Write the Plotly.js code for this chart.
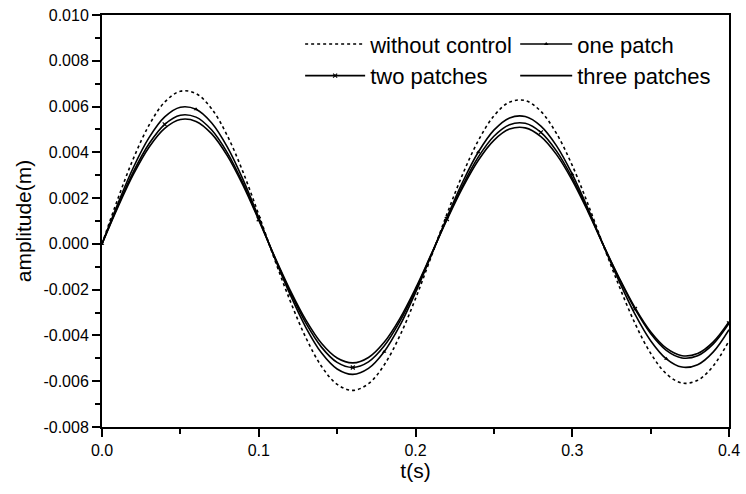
<!DOCTYPE html>
<html>
<head>
<meta charset="utf-8">
<script src="https://cdn.plot.ly/plotly-3.0.1.min.js"></script>
<style>html,body{margin:0;padding:0;background:#fff;}</style>
</head>
<body>
<div id="chart" style="width:746px;height:494px;"></div>
<script>
var t = [0.00,0.01,0.02,0.03,0.04,0.05,0.06,0.07,0.08,0.09,0.10,0.11,0.12,0.13,0.14,0.15,0.16,0.17,0.18,0.19,0.20,
         0.21,0.22,0.23,0.24,0.25,0.26,0.27,0.28,0.29,0.30,0.31,0.32,0.33,0.34,0.35,0.36,0.37,0.38,0.39,0.40];

var withoutControl = [0,0.001948,0.003727,0.005185,0.006195,0.006669,0.006567,0.005899,0.004720,0.003134,0.001277,
  -0.000660,-0.002482,-0.004090,-0.005345,-0.006137,-0.006400,-0.006109,-0.005292,-0.004015,-0.002394,
  -0.000566,0.001292,0.003028,0.004503,0.005590,0.006194,0.006262,0.005789,0.004816,0.003428,
  0.001743,-0.000093,-0.001860,-0.003468,-0.004778,-0.005674,-0.006080,-0.005961,-0.005328,-0.004233];

var onePatch = [0,0.001744,0.003338,0.004643,0.005548,0.005972,0.005881,0.005282,0.004227,0.002807,0.001144,
  -0.000588,-0.002210,-0.003643,-0.004760,-0.005466,-0.005700,-0.005441,-0.004713,-0.003576,-0.002132,
  -0.000504,0.001148,0.002692,0.004002,0.004969,0.005505,0.005566,0.005146,0.004281,0.003047,
  0.001549,-0.000083,-0.001646,-0.003070,-0.004230,-0.005023,-0.005382,-0.005277,-0.004716,-0.003747];

var twoPatches = [0,0.001642,0.003143,0.004373,0.005224,0.005624,0.005538,0.004974,0.003980,0.002643,0.001077,
  -0.000557,-0.002094,-0.003451,-0.004510,-0.005178,-0.005400,-0.005155,-0.004465,-0.003388,-0.002020,
  -0.000477,0.001087,0.002548,0.003788,0.004703,0.005210,0.005268,0.004870,0.004052,0.002884,
  0.001466,-0.000078,-0.001525,-0.002843,-0.003917,-0.004651,-0.004984,-0.004886,-0.004367,-0.003470];

var threePatches = [0,0.001587,0.003037,0.004225,0.005048,0.005435,0.005352,0.004807,0.003847,0.002554,0.001041,
  -0.000536,-0.002017,-0.003323,-0.004343,-0.004986,-0.005200,-0.004964,-0.004299,-0.003262,-0.001945,
  -0.000460,0.001046,0.002452,0.003645,0.004525,0.005014,0.005069,0.004686,0.003899,0.002775,
  0.001411,-0.000075,-0.001494,-0.002786,-0.003838,-0.004557,-0.004884,-0.004788,-0.004280,-0.003400];

var names = ['without control','one patch','two patches','three patches'];

var xTickVals = [0, 0.1, 0.2, 0.3, 0.4];
var xTickText = ['0.0', '0.1', '0.2', '0.3', '0.4'];
var yTickVals = [0.010, 0.008, 0.006, 0.004, 0.002, 0, -0.002, -0.004, -0.006, -0.008];
var yTickText = ['0.010', '0.008', '0.006', '0.004', '0.002', '0.000', '-0.002', '-0.004', '-0.006', '-0.008'];

var traces = [
  {x:t, y:withoutControl, name:names[0], legend:'legend', mode:'lines',
   line:{color:'#000', width:1.6, dash:'dot', shape:'spline'}},
  {x:t, y:onePatch, name:names[1], legend:'legend2', mode:'lines+markers',
   line:{color:'#000', width:1.6, shape:'spline'},
   marker:{symbol:'triangle-up', size:4, color:'#000', maxdisplayed:8}},
  {x:t, y:twoPatches, name:names[2], legend:'legend', mode:'lines+markers',
   line:{color:'#000', width:1.6, shape:'spline'},
   marker:{symbol:'x-thin', size:4, color:'#000', line:{width:1.2, color:'#000'}, maxdisplayed:8}},
  {x:t, y:threePatches, name:names[3], legend:'legend2', mode:'lines',
   line:{color:'#000', width:1.6, shape:'spline'}}
];

var fam = '"Liberation Sans", Arial, sans-serif';
var legendStyle = function (xpos, iw) {
  return {orientation:'v', x:xpos, xanchor:'left', y:0.98, yanchor:'top',
          bgcolor:'rgba(0,0,0,0)', borderwidth:0, tracegroupgap:0,
          font:{family:fam, size:22, color:'#000'}, traceorder:'normal', itemwidth:iw};
};

var layout = {
  width:746, height:494,
  margin:{l:102, r:17, t:15, b:67},
  paper_bgcolor:'#fff', plot_bgcolor:'#fff',
  font:{family:fam, color:'#000'},
  showlegend:true,
  legend:legendStyle(0.316, 60),
  legend2:legendStyle(0.659, 52),
  xaxis:{range:[0,0.4], tickmode:'array', tickvals:xTickVals, ticktext:xTickText,
         showgrid:false, zeroline:false, automargin:false,
         showline:true, linecolor:'#000', linewidth:2, mirror:true,
         ticks:'outside', ticklen:8, tickwidth:2, tickcolor:'#000',
         minor:{dtick:0.05, tick0:0, ticks:'outside', ticklen:5, tickwidth:2, tickcolor:'#000', showgrid:false},
         tickfont:{family:fam, size:16, color:'#000'},
         title:{text:'t(s)', font:{family:fam, size:21, color:'#000'}, standoff:0}},
  yaxis:{range:[-0.008,0.010], tickmode:'array', tickvals:yTickVals, ticktext:yTickText,
         showgrid:false, zeroline:false, automargin:false,
         showline:true, linecolor:'#000', linewidth:2, mirror:true,
         ticks:'outside', ticklen:8, tickwidth:2, tickcolor:'#000',
         minor:{dtick:0.001, tick0:0, ticks:'outside', ticklen:5, tickwidth:2, tickcolor:'#000', showgrid:false},
         tickfont:{family:fam, size:16, color:'#000'},
         title:{text:'amplitude(m)', font:{family:fam, size:21, color:'#000'}, standoff:6}}
};

Plotly.newPlot('chart', traces, layout, {displayModeBar:false, staticPlot:true});
</script>
</body>
</html>
